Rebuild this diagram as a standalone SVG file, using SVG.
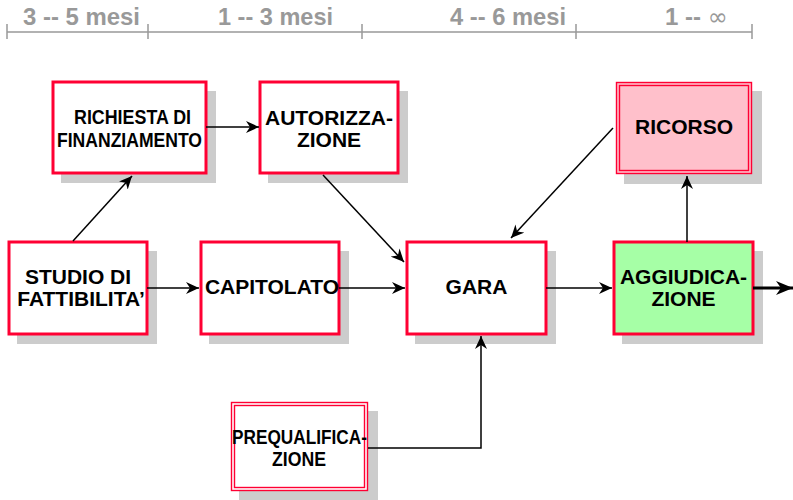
<svg xmlns="http://www.w3.org/2000/svg" width="793" height="500" viewBox="0 0 793 500">
<defs>
<style>
.box{fill:#fff;stroke:#FF0033;stroke-width:3}
.dbl{fill:none;stroke:#FF0033;stroke-width:1.4}
.sh{fill:#CCCCCC}
.t{font-family:"Liberation Sans",Arial,sans-serif;font-weight:bold;font-size:21px;fill:#000;text-anchor:middle}
.tn{font-family:"Liberation Sans",Arial,sans-serif;font-weight:bold;font-size:20px;fill:#000}
.tl{font-family:"Liberation Sans",Arial,sans-serif;font-weight:bold;font-size:24px;fill:#999}
.c{fill:none;stroke:#000;stroke-width:1.5}
.tk{fill:none;stroke:#999;stroke-width:1.5}
</style>
<marker id="ah" markerUnits="userSpaceOnUse" markerWidth="14" markerHeight="12" refX="13" refY="6" orient="auto" viewBox="0 0 14 12">
<path d="M0,0 L13,6 L0,12 L4,6 Z" fill="#000"/>
</marker>
<marker id="ahb" markerUnits="userSpaceOnUse" markerWidth="18" markerHeight="14" refX="17" refY="7" orient="auto" viewBox="0 0 18 14">
<path d="M0,0 L17,7 L0,14 L5,7 Z" fill="#000"/>
</marker>
</defs>
<rect width="793" height="500" fill="#fff"/>
<g id="timeline">
<path class="tk" d="M7,32 H752 M7,24 V39 M148,24 V39 M362,24 V39 M576,24 V39 M752,24 V39"/>
<text class="tl" x="23" y="25" textLength="117" lengthAdjust="spacingAndGlyphs">3 -- 5 mesi</text>
<text class="tl" x="218" y="25" textLength="115" lengthAdjust="spacingAndGlyphs">1 -- 3 mesi</text>
<text class="tl" x="450" y="25" textLength="116" lengthAdjust="spacingAndGlyphs">4 -- 6 mesi</text>
<text class="tl" x="665" y="25">1 -- <tspan style="font-family:'DejaVu Sans',sans-serif;font-weight:normal">∞</tspan></text>
</g>
<g id="richiesta">
<rect class="sh" x="61" y="91" width="155" height="92"/>
<rect class="box" x="53" y="82" width="153" height="91"/>
<text class="tn" x="74" y="124" textLength="117" lengthAdjust="spacingAndGlyphs">RICHIESTA DI</text>
<text class="tn" x="57" y="147" textLength="145" lengthAdjust="spacingAndGlyphs">FINANZIAMENTO</text>
</g>
<g id="autorizzazione">
<rect class="sh" x="268" y="91" width="140" height="92"/>
<rect class="box" x="260" y="82" width="138" height="91"/>
<text class="t" x="329" y="125">AUTORIZZA-</text>
<text class="t" x="329" y="147">ZIONE</text>
</g>
<g id="ricorso">
<rect class="sh" x="624" y="91" width="138" height="93"/>
<rect x="616" y="82" width="136" height="92" fill="#FFC0CB"/>
<rect class="dbl" x="616.5" y="82.5" width="135" height="91"/>
<rect class="dbl" x="619.5" y="85.5" width="129" height="85"/>
<text class="t" x="684" y="134">RICORSO</text>
</g>
<g id="studio">
<rect class="sh" x="17" y="251" width="140" height="93"/>
<rect class="box" x="9" y="242" width="138" height="92"/>
<text class="t" x="78" y="284">STUDIO DI</text>
<text class="t" x="81" y="306">FATTIBILITA’</text>
</g>
<g id="capitolato">
<rect class="sh" x="209" y="251" width="140" height="93"/>
<rect class="box" x="201" y="242" width="138" height="92"/>
<text class="t" x="272" y="294">CAPITOLATO</text>
</g>
<g id="gara">
<rect class="sh" x="415" y="251" width="141" height="93"/>
<rect class="box" x="407" y="242" width="139" height="92"/>
<text class="t" x="476.5" y="294">GARA</text>
</g>
<g id="aggiudicazione">
<rect class="sh" x="622" y="251" width="141" height="93"/>
<rect class="box" x="614" y="242" width="139" height="92" style="fill:#A6FFA6"/>
<text class="t" x="683.5" y="284">AGGIUDICA-</text>
<text class="t" x="683.5" y="306">ZIONE</text>
</g>
<g id="prequalificazione">
<rect class="sh" x="239" y="411" width="139" height="90"/>
<rect x="231" y="402" width="137" height="89" fill="#fff"/>
<rect class="dbl" x="231.5" y="402.5" width="136" height="88"/>
<rect class="dbl" x="234.5" y="405.5" width="130" height="82"/>
<text class="tn" x="232" y="444" textLength="135" lengthAdjust="spacingAndGlyphs">PREQUALIFICA-</text>
<text class="tn" x="272" y="466" textLength="54" lengthAdjust="spacingAndGlyphs">ZIONE</text>
</g>
<g id="connectors">
<path class="c" d="M73,241 L132,176" marker-end="url(#ah)"/>
<path class="c" d="M206,127 L259,127" marker-end="url(#ah)"/>
<path class="c" d="M323,175 L404,262" marker-end="url(#ah)"/>
<path class="c" d="M613,128 L511,238" marker-end="url(#ah)"/>
<path class="c" d="M147,288 L199,288" marker-end="url(#ah)"/>
<path class="c" d="M339,288 L405,288" marker-end="url(#ah)"/>
<path class="c" d="M546,288 L612,288" marker-end="url(#ah)"/>
<path class="c" d="M687,242 L687,176" marker-end="url(#ah)"/>
<path class="c" d="M368,448 L481,448 L481,336" marker-end="url(#ah)"/>
<path class="c" style="stroke-width:3" d="M753,288 L793,288" marker-end="url(#ahb)"/>
</g>
</svg>
